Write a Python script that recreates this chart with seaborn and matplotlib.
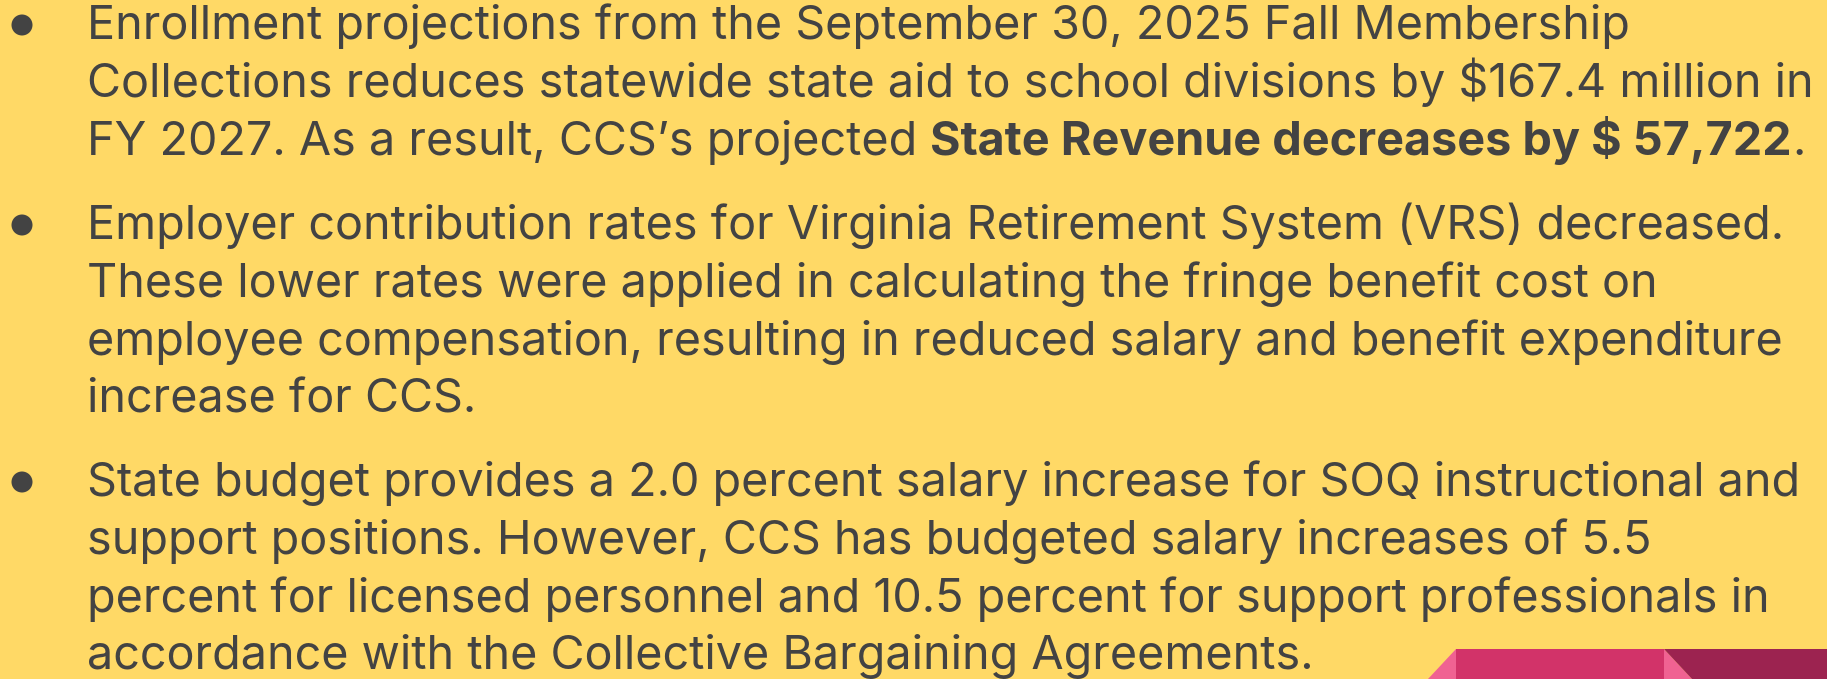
import matplotlib
matplotlib.use("Agg")
import matplotlib.pyplot as plt
import seaborn as sns
from matplotlib.patches import Polygon, Circle

# Slide content: bullet paragraphs split into their visual lines
bullet_1 = [
    "Enrollment projections from the September 30, 2025 Fall Membership",
    "Collections reduces statewide state aid to school divisions by $167.4 million in",
]
bullet_1_last = ["FY 2027. As a result, CCS\u2019s projected ", "State Revenue decreases by $ 57,722", "."]
bullet_2 = [
    "Employer contribution rates for Virginia Retirement System (VRS) decreased.",
    "These lower rates were applied in calculating the fringe benefit cost on",
    "employee compensation, resulting in reduced salary and benefit expenditure",
    "increase for CCS.",
]
bullet_3 = [
    "State budget provides a 2.0 percent salary increase for SOQ instructional and",
    "support positions. However, CCS has budgeted salary increases of 5.5",
    "percent for licensed personnel and 10.5 percent for support professionals in",
    "accordance with the Collective Bargaining Agreements.",
]

# baselines (pixels from top) for each paragraph's first line
para_baselines = [39, 239, 496]
line_step = 57.8

BG = "#FFD966"
INK = "#434343"

sns.set_theme(style="white")
plt.rcParams["font.family"] = ["Inter", "DejaVu Sans"]

W, H = 1827, 679
fig = plt.figure(figsize=(W / 100, H / 100), dpi=100, facecolor=BG)
ax = fig.add_axes([0, 0, 1, 1])
ax.set_xlim(0, W)
ax.set_ylim(H, 0)
ax.set_facecolor(BG)
ax.axis("off")

renderer = fig.canvas.get_renderer()

# fit font size so the first line of bullet 2 spans like the reference
probe = ax.text(0, 0, bullet_2[0], fontsize=30)
w30 = probe.get_window_extent(renderer).width
probe.remove()
fs = 30 * (1785 - 87) / w30

x0 = 87


def draw_line(y, parts):
    x = x0
    for text, weight in parts:
        t = ax.text(x, y, text, fontsize=fs, color=INK, fontweight=weight,
                    va="baseline", ha="left")
        bb = t.get_window_extent(renderer)
        x += bb.width
    return x


paragraphs = [
    [[(s, "normal")] for s in bullet_1]
    + [[(bullet_1_last[0], "normal"), (bullet_1_last[1], "bold"), (bullet_1_last[2], "normal")]],
    [[(s, "normal")] for s in bullet_2],
    [[(s, "normal")] for s in bullet_3],
]

for base, lines in zip(para_baselines, paragraphs):
    ax.add_patch(Circle((22, base - 14), 10.5, color=INK, lw=0))
    for i, parts in enumerate(lines):
        draw_line(base + i * line_step, parts)

# decorative ribbon shapes at the bottom right
ax.add_patch(Polygon([(1428, 679), (1456, 649), (1456, 679)], closed=True, color="#F06292", lw=0))
ax.add_patch(Polygon([(1456, 649), (1664, 649), (1664, 679), (1456, 679)], closed=True, color="#D23369", lw=0))
ax.add_patch(Polygon([(1664, 649), (1692, 679), (1664, 679)], closed=True, color="#F06292", lw=0))
ax.add_patch(Polygon([(1664, 649), (1827, 649), (1827, 679), (1692, 679)], closed=True, color="#9C2350", lw=0))

fig.savefig("out.png", dpi=100, facecolor=BG)
